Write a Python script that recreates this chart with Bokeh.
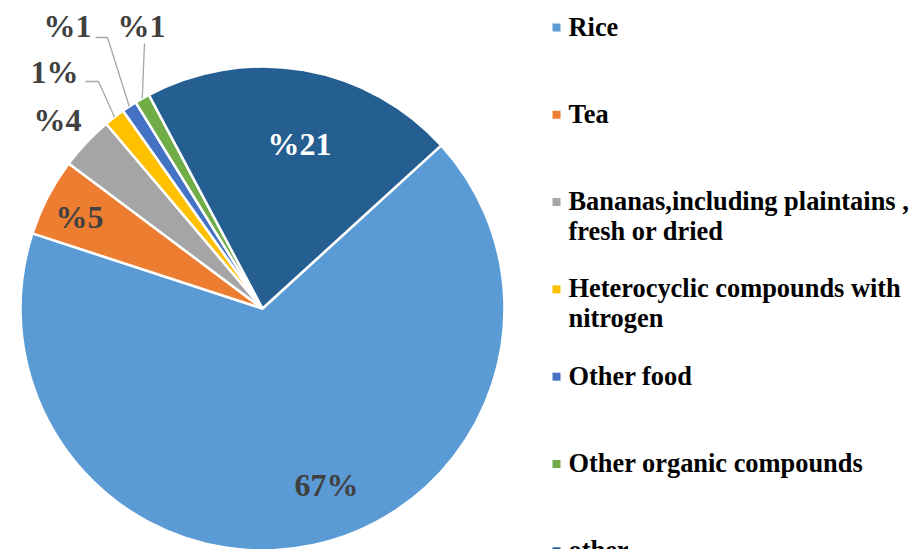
import math
from bokeh.plotting import figure
from bokeh.models import Range1d
from bokeh.core.properties import value
from bokeh.embed import file_html
from bokeh.resources import INLINE

# ---- data ----
categories = ["Rice", "Tea", "Bananas,including plaintains ,\nfresh or dried",
              "Heterocyclic compounds with\nnitrogen", "Other food",
              "Other organic compounds", "other"]
shares = [66.8, 5.2, 3.6, 1.4, 1.0, 1.0, 21.0]
pct_labels = ["67%", "%5", "%4", "1%", "%1", "%1", "%21"]
colors = ["#5B9BD5", "#ED7D31", "#A5A5A5", "#FFC000", "#4472C4", "#70AD47", "#255E91"]

# ---- layout (screen pixel coordinates of the reference) ----
W, H = 912, 549
def X(sx): return sx
def Y(sy): return H - sy

FONT = value("Liberation Serif")

cx, cy, R = X(262), Y(308), 242
start_deg = 42.4
label_pos = [(326, 484), (79, 216), (57, 119), (54, 71), (67, 25), (141, 25), (299, 143)]
label_col = ["#404040"] * 6 + ["#FFFFFF"]
leader_elbows = {3: [(85, 81), (98, 81)], 4: [(95, 37), (107, 37)], 5: [(144, 43), (144, 43)]}

p = figure(width=W, height=H, x_range=Range1d(0, W), y_range=Range1d(0, H),
           output_backend="svg", toolbar_location=None, min_border=0,
           x_axis_location=None, y_axis_location=None)
p.grid.visible = False
p.outline_line_color = None
p.background_fill_color = "white"
p.border_fill_color = "white"

total = sum(shares)
cum = 0.0
mids = []
for v, c in zip(shares, colors):
    a_hi = math.radians(start_deg - 360.0 * cum / total)
    a_lo = math.radians(start_deg - 360.0 * (cum + v) / total)
    p.wedge(x=cx, y=cy, radius=R, start_angle=a_lo, end_angle=a_hi,
            fill_color=c, line_color="white", line_width=2.5)
    mids.append((a_lo + a_hi) / 2)
    cum += v

# leader lines
for i, pts in leader_elbows.items():
    ex = cx + R * math.cos(mids[i])
    ey = cy + R * math.sin(mids[i])
    xs = [X(pts[0][0]), X(pts[1][0]), ex]
    ys = [Y(pts[0][1]), Y(pts[1][1]), ey]
    p.line(xs, ys, line_color="#A6A6A6", line_width=1.3)

# slice labels
for lab, (sx, sy), col in zip(pct_labels, label_pos, label_col):
    p.text(x=[X(sx)], y=[Y(sy)], text=[lab], text_align="center", text_baseline="middle",
           text_font=FONT, text_font_style="bold",
           text_font_size="32px", text_color=col)

# legend
leg_x, leg_y0, leg_step = 556, 27, 87.3
for i, (cat, c) in enumerate(zip(categories, colors)):
    sy = leg_y0 + i * leg_step
    p.scatter(x=[X(leg_x)], y=[Y(sy)], marker="square", size=8, fill_color=c, line_color=None)
    for j, line in enumerate(cat.split("\n")):
        p.text(x=[X(568)], y=[Y(sy - 1 + 30 * j)], text=[line], text_align="left",
               text_baseline="middle", text_font=FONT,
               text_font_style="bold", text_font_size="26.4px", text_color="#000000")

open("out.html", "w").write(file_html(p, INLINE))
